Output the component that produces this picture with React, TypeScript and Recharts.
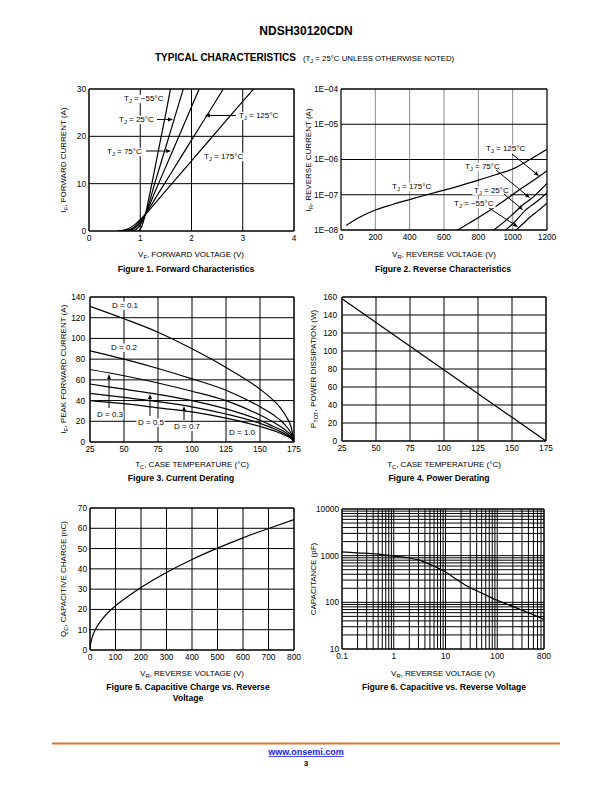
import React from "react";
import { LineChart, Line, XAxis, YAxis, CartesianGrid, ReferenceArea } from "recharts";

type Pt = [number, number];

// Figure 1 - forward characteristics, [VF (V), IF (A)]
const fwdTjM55: Pt[] = [[0.96, 0], [1.0, 0.4], [1.05, 1.6], [1.1, 3.5], [1.2, 8.6], [1.3, 14], [1.4, 19.5], [1.5, 24.9], [1.59, 30]];
const fwdTj25: Pt[] = [[0.82, 0], [0.92, 0.3], [1.0, 1.3], [1.05, 2.3], [1.1, 3.5], [1.3, 10.7], [1.5, 17.8], [1.7, 25], [1.84, 30]];
const fwdTj75: Pt[] = [[0.72, 0], [0.85, 0.35], [0.95, 1.1], [1.05, 2.5], [1.1, 3.5], [1.3, 8.6], [1.6, 16.1], [1.9, 23.7], [2.15, 30]];
const fwdTj125: Pt[] = [[0.65, 0], [0.8, 0.35], [0.9, 1.0], [1.0, 2.1], [1.1, 3.5], [1.3, 7.0], [1.6, 12.2], [2.0, 19.2], [2.3, 24.4], [2.62, 30]];
const fwdTj175: Pt[] = [[0.55, 0], [0.7, 0.25], [0.8, 0.7], [0.9, 1.4], [1.0, 2.4], [1.1, 3.5], [1.3, 6.0], [1.6, 9.8], [2.0, 14.8], [2.5, 21.1], [3.0, 27.4], [3.21, 30]];
const fwdVoltTicks = [0, 1, 2, 3, 4];
const fwdCurTicks = [0, 10, 20, 30];

// Figure 2 - reverse characteristics, [VR (V), IR (A)]
const revTj175: Pt[] = [[30, 1.35e-8], [100, 2.2e-8], [200, 3.7e-8], [300, 5.3e-8], [400, 7.3e-8], [500, 1.0e-7], [600, 1.35e-7], [700, 1.85e-7], [800, 2.6e-7], [900, 3.7e-7], [1000, 5.4e-7], [1100, 1.0e-6], [1200, 1.95e-6]];
const revTj125: Pt[] = [[680, 1e-8], [750, 1.6e-8], [850, 3.2e-8], [950, 6.8e-8], [1050, 1.5e-7], [1150, 3.2e-7], [1200, 4.8e-7]];
const revTj75: Pt[] = [[890, 1e-8], [950, 1.7e-8], [1000, 2.8e-8], [1050, 4.7e-8], [1080, 6.2e-8], [1100, 7.2e-8], [1150, 1.2e-7], [1200, 2.1e-7]];
const revTj25: Pt[] = [[960, 1e-8], [1000, 1.5e-8], [1040, 2.4e-8], [1070, 3.5e-8], [1100, 4.6e-8], [1150, 7e-8], [1200, 1.15e-7]];
const revTjM55: Pt[] = [[1020, 1e-8], [1060, 1.5e-8], [1100, 2.3e-8], [1150, 3.6e-8], [1200, 5.8e-8]];
const revVoltTicks = [0, 200, 400, 600, 800, 1000, 1200];
const revCurTicks = [1e-8, 1e-7, 1e-6, 1e-5, 1e-4];

// Figure 3 - current derating, IF peak (A) vs TC (°C)
const caseTemp = [25, 50, 75, 100, 125, 150, 160, 165, 170, 173, 175];
const derD01 = [131, 119, 106, 90, 72, 51, 40, 33, 23, 14, 0];
const derD02 = [88, 80, 71, 61, 50, 34, 26, 21, 14, 8, 0];
const derD03 = [70, 64, 57, 49, 40, 26, 19, 15, 10, 6, 0];
const derD05 = [56, 51, 46, 40, 32, 21, 15, 12, 8, 4.5, 0];
const derD07 = [47, 43, 39, 34, 27, 18, 13, 10, 6.5, 4, 0];
const derD10 = [40, 37, 33, 29, 23, 15, 11, 8.5, 5.5, 3.3, 0];
const tempTicks = [25, 50, 75, 100, 125, 150, 175];
const peakCurTicks = [0, 20, 40, 60, 80, 100, 120, 140];

// Figure 4 - power derating
const powerTemp = [25, 175];
const powerTot = [158, 0];
const powerTicks = [0, 20, 40, 60, 80, 100, 120, 140, 160];

// Figure 5 - capacitive charge
const qcVolt = [0, 2, 5, 10, 20, 50, 100, 150, 200, 300, 400, 500, 600, 700, 800];
const qcCharge = [0, 2.5, 4.5, 6.8, 9.8, 15.5, 21.8, 26.5, 30.8, 38.2, 44.6, 50.2, 55.3, 59.9, 64.3];
const qcVoltTicks = [0, 100, 200, 300, 400, 500, 600, 700, 800];
const qcTicks = [0, 10, 20, 30, 40, 50, 60, 70];

// Figure 6 - capacitance
const capVolt = [0.1, 0.2, 0.5, 1, 2, 3, 5, 7, 10, 15, 20, 30, 50, 70, 100, 200, 300, 500, 800];
const capPf = [1200, 1150, 1080, 980, 890, 810, 650, 550, 450, 330, 265, 205, 158, 132, 110, 82, 68, 54, 43];
const capVoltGrid = [0.1, 0.2, 0.3, 0.4, 0.5, 0.6, 0.7, 0.8, 0.9, 1, 2, 3, 4, 5, 6, 7, 8, 9, 10, 20, 30, 40, 50, 60, 70, 80, 90, 100, 200, 300, 400, 500, 600, 700, 800];
const capVoltLabels = [0.1, 1, 10, 100, 800];
const capGrid = [10, 20, 30, 40, 50, 60, 70, 80, 90, 100, 200, 300, 400, 500, 600, 700, 800, 900, 1000, 2000, 3000, 4000, 5000, 6000, 7000, 8000, 9000, 10000];
const capLabels = [10, 100, 1000, 10000];

const FONT = "'Liberation Sans', Arial, Helvetica, sans-serif";
const tickStyle = { fontSize: 8.3, fill: "#000", fontFamily: FONT };
const Y_W = 40;
const TOP = 6;
const RIGHT = 16;
const X_H = 18;

const toXY = (pts: Pt[]) => pts.map(([x, y]) => ({ x, y }));
const zip = (xs: number[], ys: number[]) => xs.map((x, i) => ({ x, y: ys[i] }));

type PanelProps = {
  left: number;
  top: number;
  w: number;
  h: number;
  xDomain: [number, number];
  yDomain: [number, number];
  xTicks: number[];
  yTicks: number[];
  xLog?: boolean;
  yLog?: boolean;
  xFmt?: (v: number) => string;
  yFmt?: (v: number) => string;
  yGap?: number;
  vGrid?: string;
  series: { x: number; y: number }[][];
};

const Panel = (p: PanelProps) => (
  <div style={{ position: "absolute", left: p.left - Y_W, top: p.top - TOP }}>
    <LineChart
      width={Y_W + p.w + RIGHT}
      height={TOP + p.h + X_H}
      margin={{ top: TOP, right: RIGHT, left: 0, bottom: 0 }}
    >
      {p.vGrid ? (
        <>
          <CartesianGrid horizontal={false} stroke={p.vGrid} />
          <CartesianGrid vertical={false} stroke="#000" />
        </>
      ) : (
        <CartesianGrid stroke="#000" />
      )}
      <XAxis
        type="number"
        dataKey="x"
        domain={p.xDomain}
        ticks={p.xTicks}
        scale={p.xLog ? "log" : "linear"}
        allowDataOverflow
        interval={0}
        tickLine={false}
        tickSize={0}
        tickMargin={4}
        axisLine={false}
        tick={tickStyle}
        tickFormatter={p.xFmt}
        height={X_H}
      />
      <YAxis
        type="number"
        dataKey="y"
        domain={p.yDomain}
        ticks={p.yTicks}
        scale={p.yLog ? "log" : "linear"}
        allowDataOverflow
        interval={0}
        tickLine={false}
        tickSize={0}
        tickMargin={p.yGap ?? 3}
        axisLine={false}
        tick={tickStyle}
        tickFormatter={p.yFmt}
        width={Y_W}
      />
      <ReferenceArea
        x1={p.xDomain[0]}
        x2={p.xDomain[1]}
        y1={p.yDomain[0]}
        y2={p.yDomain[1]}
        fill="none"
        stroke="#000"
        strokeWidth={1}
        ifOverflow="visible"
      />
      {p.series.map((d, i) => (
        <Line
          key={i}
          data={d}
          dataKey="y"
          type="monotone"
          dot={false}
          activeDot={false}
          stroke="#000"
          strokeWidth={1.2}
          isAnimationActive={false}
        />
      ))}
    </LineChart>
  </div>
);

// text with a subscript, e.g. T_J, V_R
const Sub = ({ x, y, base, sub, rest, size = 8, anchor = "start", rotate = false, bg = 0 }: any) => (
  <g>
    {bg > 0 && <rect x={x - 1.5} y={y - size * 0.78} width={bg} height={size * 1.05} fill="#fff" />}
    <text
      x={x}
      y={y}
      fontSize={size}
      fontFamily={FONT}
      textAnchor={anchor}
      fill="#000"
      transform={rotate ? `rotate(-90 ${x} ${y})` : undefined}
    >
      {base}
      <tspan fontSize={size * 0.72} dy={size * 0.22}>{sub}</tspan>
      <tspan dy={-size * 0.22}>{rest}</tspan>
    </text>
  </g>
);

const Tag = ({ x, y, text, w }: any) => (
  <g>
    <rect x={x - 1.5} y={y - 6.5} width={w} height={8.5} fill="#fff" />
    <text x={x} y={y} fontSize={8} fontFamily={FONT} fill="#000">{text}</text>
  </g>
);

const Arrow = ({ x1, y1, x2, y2 }: any) => {
  const a = Math.atan2(y2 - y1, x2 - x1);
  const L = 5;
  const W = 2;
  const bx = x2 - L * Math.cos(a);
  const by = y2 - L * Math.sin(a);
  const px = -Math.sin(a) * W;
  const py = Math.cos(a) * W;
  return (
    <g>
      <line x1={x1} y1={y1} x2={bx} y2={by} stroke="#000" strokeWidth={1} />
      <polygon points={`${x2},${y2} ${bx + px},${by + py} ${bx - px},${by - py}`} fill="#000" />
    </g>
  );
};

const Caption = ({ x, y, children }: any) => (
  <text x={x} y={y} fontSize={8.6} fontWeight="bold" fontFamily={FONT} textAnchor="middle" fill="#000">
    {children}
  </text>
);

const expFmt = (v: number) => `1E–0${Math.round(-Math.log10(v))}`;
const capXFmt = (v: number) => (capVoltLabels.includes(v) ? String(v) : "");
const capYFmt = (v: number) => (capLabels.includes(v) ? String(v) : "");

export default function App() {
  return (
    <div style={{ position: "absolute", left: 0, top: 0, width: 612, height: 792, background: "#fff", fontFamily: FONT }}>
      <Panel
        left={89} top={89} w={205} h={142}
        xDomain={[0, 4]} yDomain={[0, 30]}
        xTicks={fwdVoltTicks} yTicks={fwdCurTicks}
        series={[fwdTjM55, fwdTj25, fwdTj75, fwdTj125, fwdTj175].map(toXY)}
      />
      <Panel
        left={341} top={89} w={206} h={141}
        xDomain={[0, 1200]} yDomain={[1e-8, 1e-4]}
        xTicks={revVoltTicks} yTicks={revCurTicks}
        yLog yFmt={expFmt} vGrid="#8a8a8a"
        series={[revTj175, revTj125, revTj75, revTj25, revTjM55].map(toXY)}
      />
      <Panel
        left={90} top={297} w={204} h={145}
        xDomain={[25, 175]} yDomain={[0, 140]}
        xTicks={tempTicks} yTicks={peakCurTicks} yGap={5}
        series={[derD01, derD02, derD03, derD05, derD07, derD10].map((d) => zip(caseTemp, d))}
      />
      <Panel
        left={342} top={297} w={204} h={144}
        xDomain={[25, 175]} yDomain={[0, 160]}
        xTicks={tempTicks} yTicks={powerTicks} yGap={5}
        series={[zip(powerTemp, powerTot)]}
      />
      <Panel
        left={90} top={508} w={204} h={142}
        xDomain={[0, 800]} yDomain={[0, 70]}
        xTicks={qcVoltTicks} yTicks={qcTicks}
        series={[zip(qcVolt, qcCharge)]}
      />
      <Panel
        left={342} top={509} w={202} h={140}
        xDomain={[0.1, 800]} yDomain={[10, 10000]}
        xTicks={capVoltGrid} yTicks={capGrid}
        xLog yLog xFmt={capXFmt} yFmt={capYFmt}
        series={[zip(capVolt, capPf)]}
      />

      <svg width={612} height={792} style={{ position: "absolute", left: 0, top: 0, pointerEvents: "none" }}>
        {/* page header */}
        <text x={306} y={35} fontSize={12} fontWeight="bold" fontFamily={FONT} textAnchor="middle">NDSH30120CDN</text>
        <text x={155} y={61} fontSize={10} fontWeight="bold" fontFamily={FONT}>TYPICAL CHARACTERISTICS</text>
        <Sub x={303} y={61} size={7.8} base="(T" sub="J" rest=" = 25°C UNLESS OTHERWISE NOTED)" />

        {/* figure 1 */}
        <Sub x={66} y={160} rotate anchor="middle" base="I" sub="F" rest=", FORWARD CURRENT (A)" />
        <Sub x={191} y={257} anchor="middle" base="V" sub="F" rest=", FORWARD VOLTAGE (V)" />
        <Caption x={186} y={272}>Figure 1. Forward Characteristics</Caption>
        <Sub x={124} y={101} base="T" sub="J" rest=" = −55°C" bg={43} />
        <Sub x={119} y={122} base="T" sub="J" rest=" = 25°C" bg={38} />
        <Sub x={107} y={154} base="T" sub="J" rest=" = 75°C" bg={38} />
        <Sub x={239} y={118} base="T" sub="J" rest=" = 125°C" bg={43} />
        <Sub x={204} y={159} base="T" sub="J" rest=" = 175°C" bg={43} />
        <Arrow x1={157} y1={119.5} x2={173} y2={119.5} />
        <Arrow x1={146} y1={151} x2={171} y2={151} />
        <Arrow x1={236} y1={115.5} x2={205} y2={115.5} />

        {/* figure 2 */}
        <Sub x={311} y={160} rotate anchor="middle" base="I" sub="R" rest=", REVERSE CURRENT (A)" />
        <Sub x={444} y={257} anchor="middle" base="V" sub="R" rest=", REVERSE VOLTAGE (V)" />
        <Caption x={443} y={272}>Figure 2. Reverse Characteristics</Caption>
        <Sub x={392} y={189} base="T" sub="J" rest=" = 175°C" bg={43} />
        <Sub x={486} y={151} base="T" sub="J" rest=" = 125°C" bg={43} />
        <Sub x={465} y={169} base="T" sub="J" rest=" = 75°C" bg={38} />
        <Sub x={474} y={193} base="T" sub="J" rest=" = 25°C" bg={38} />
        <Sub x={454} y={206} base="T" sub="J" rest=" = −55°C" bg={43} />
        <Arrow x1={512} y1={154} x2={539} y2={176} />
        <Arrow x1={496} y1={170} x2={530} y2={198} />
        <Arrow x1={504} y1={194} x2={523} y2={210} />
        <Arrow x1={489} y1={208} x2={518} y2={227} />

        {/* figure 3 */}
        <Sub x={66} y={369} rotate anchor="middle" base="I" sub="F" rest=", PEAK FORWARD CURRENT (A)" />
        <Sub x={192} y={467} anchor="middle" base="T" sub="C" rest=", CASE TEMPERATURE (°C)" />
        <Caption x={181} y={481}>Figure 3. Current Derating</Caption>
        <Tag x={112} y={308} text="D = 0.1" w={28} />
        <Tag x={111} y={350} text="D = 0.2" w={28} />
        <Tag x={97} y={417} text="D = 0.3" w={28} />
        <Tag x={138} y={425} text="D = 0.5" w={28} />
        <Tag x={174} y={429} text="D = 0.7" w={28} />
        <Tag x={229} y={435} text="D = 1.0" w={28} />
        <Arrow x1={109} y1={408} x2={109} y2={374} />
        <Arrow x1={150} y1={416} x2={150} y2={394} />
        <Arrow x1={184} y1={420} x2={184} y2={406} />

        {/* figure 4 */}
        <Sub x={316} y={369} rotate anchor="middle" base="P" sub="TOT" rest=", POWER DISSIPATION (W)" />
        <Sub x={444} y={467} anchor="middle" base="T" sub="C" rest=", CASE TEMPERATURE (°C)" />
        <Caption x={439} y={481}>Figure 4. Power Derating</Caption>

        {/* figure 5 */}
        <Sub x={66} y={579} rotate anchor="middle" base="Q" sub="C" rest=", CAPACITIVE CHARGE (nC)" />
        <Sub x={192} y={676} anchor="middle" base="V" sub="R" rest=", REVERSE VOLTAGE (V)" />
        <Caption x={188} y={690}>Figure 5. Capacitive Charge vs. Reverse</Caption>
        <Caption x={188} y={701}>Voltage</Caption>

        {/* figure 6 */}
        <text x={316} y={579} fontSize={8} fontFamily={FONT} textAnchor="middle" transform="rotate(-90 316 579)">CAPACITANCE (pF)</text>
        <Sub x={443} y={676} anchor="middle" base="V" sub="R" rest=", REVERSE VOLTAGE (V)" />
        <Caption x={444} y={690}>Figure 6. Capacitive vs. Reverse Voltage</Caption>

        {/* footer */}
        <line x1={52} x2={560} y1={743.5} y2={743.5} stroke="#d9782d" strokeWidth={2} />
        <text x={306} y={755} fontSize={9} fontWeight="bold" fontFamily={FONT} textAnchor="middle" fill="#1a1aee">www.onsemi.com</text>
        <line x1={268.5} x2={343.5} y1={756.5} y2={756.5} stroke="#1a1aee" strokeWidth={0.8} />
        <text x={306} y={766} fontSize={8} fontWeight="bold" fontFamily={FONT} textAnchor="middle">3</text>
      </svg>
    </div>
  );
}
